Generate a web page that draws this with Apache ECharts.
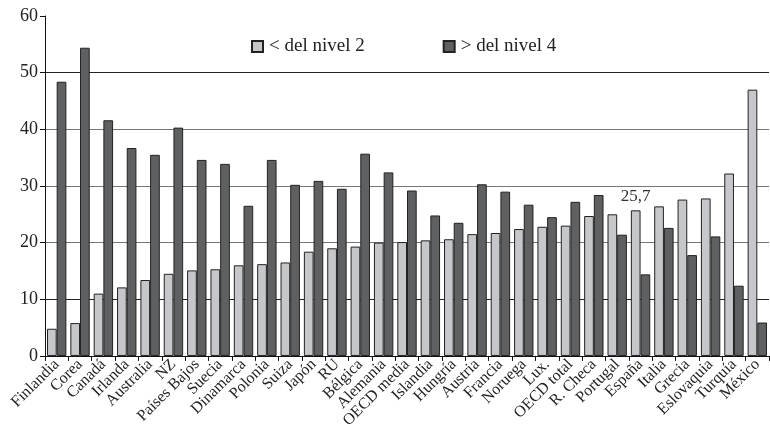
<!DOCTYPE html>
<html><head><meta charset="utf-8">
<script src="https://cdn.jsdelivr.net/npm/echarts@6/dist/echarts.min.js"></script>
<style>html,body{margin:0;padding:0;background:#fff}#c{width:770px;height:431px}</style>
</head><body><div id="c"></div>
<script>
const categories = ["Finlandia","Corea","Canadá","Irlanda","Australia","NZ","Países Bajos","Suecia","Dinamarca","Polonia","Suiza","Japón","RU","Bélgica","Alemania","OECD media","Islandia","Hungría","Austria","Francia","Noruega","Lux.","OECD total","R. Checa","Portugal","España","Italia","Grecia","Eslovaquia","Turquía","México"];
const belowLevel2 = [4.8,5.8,11.0,12.1,13.4,14.5,15.1,15.3,16.0,16.2,16.5,18.4,19.0,19.3,20.0,20.1,20.4,20.6,21.5,21.7,22.4,22.8,23.0,24.7,25.0,25.7,26.4,27.6,27.8,32.2,47.0];
const aboveLevel4 = [48.4,54.4,41.6,36.7,35.5,40.3,34.6,33.9,26.5,34.6,30.2,30.9,29.5,35.7,32.4,29.2,24.8,23.5,30.3,29.0,26.7,24.5,27.2,28.4,21.4,14.4,22.6,17.8,21.1,12.4,5.9];
const yTicks = [0,10,20,30,40,50,60];
const seriesNames = ["< del nivel 2", "> del nivel 4"];
const annotated = {category: "España", text: "25,7"};

const font = "Liberation Serif";
const lightData = belowLevel2.map((v,i) => categories[i] === annotated.category
  ? {value: v, label: {show: true, position: 'top', formatter: annotated.text, color: '#333', fontFamily: font, fontSize: 17, distance: 5}}
  : v);

const chart = echarts.init(document.getElementById('c'), null, {renderer: 'canvas'});
chart.setOption({
  animation: false,
  backgroundColor: '#fff',
  grid: {left: 45, right: 1, top: 16, bottom: 74, containLabel: false},
  legend: {
    left: 246, top: 32, itemWidth: 11, itemHeight: 11, itemGap: 78,
    icon: 'rect',
    textStyle: {fontFamily: font, fontSize: 19, color: '#222', padding: [0,0,0,1]},
    data: seriesNames
  },
  xAxis: {
    type: 'category', data: categories,
    axisLine: {lineStyle: {color: '#111', width: 1}},
    axisTick: {show: true, alignWithLabel: false, length: 5, lineStyle: {color: '#111'}},
    axisLabel: {rotate: 45, interval: 0, fontFamily: font, fontSize: 16, color: '#222', margin: 6}
  },
  yAxis: {
    type: 'value', min: yTicks[0], max: yTicks[yTicks.length-1], interval: 10,
    axisLine: {show: true, lineStyle: {color: '#111'}},
    axisTick: {show: true, length: 5, lineStyle: {color: '#111'}},
    axisLabel: {fontFamily: font, fontSize: 18, color: '#222', margin: 7},
    splitLine: {show: true, lineStyle: {color: ['#222','#222','#777','#777','#777','#222','transparent'], width: 1}}
  },
  series: [
    {name: seriesNames[0], type: 'bar', data: lightData, barGap: '0%', barCategoryGap: '17%',
     itemStyle: {color: '#c6c7ca', borderColor: '#222', borderWidth: 1}},
    {name: seriesNames[1], type: 'bar', data: aboveLevel4, barGap: '0%', barCategoryGap: '17%',
     itemStyle: {color: '#5f6062', borderColor: '#222', borderWidth: 1}}
  ]
});
</script></body></html>
